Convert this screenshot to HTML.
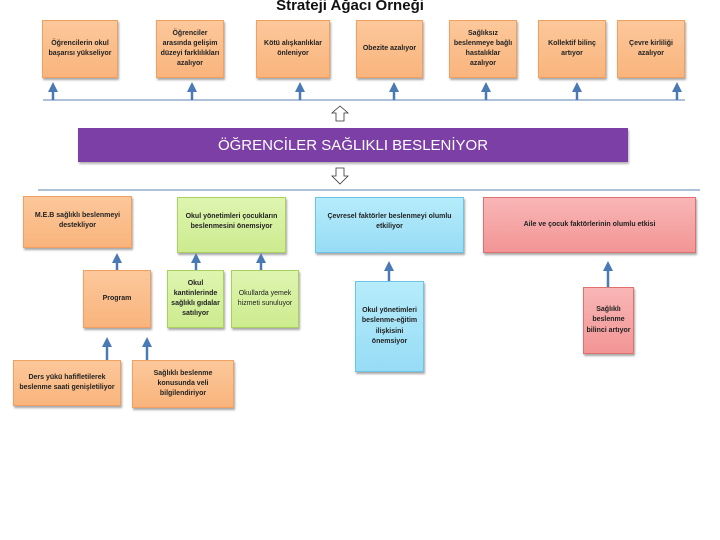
<!DOCTYPE html>
<html><head><meta charset="utf-8"><style>
body{margin:0;width:720px;height:540px;background:#fff;position:relative;overflow:hidden;font-family:"Liberation Sans",sans-serif}
.b{position:absolute;display:flex;align-items:center;justify-content:center;text-align:center;font-size:7px;font-weight:bold;color:#222;line-height:1.45;box-sizing:border-box;padding:2px;box-shadow:1px 2px 2px rgba(0,0,0,.35)}
.o{background:linear-gradient(#fcc89b,#f9b47c);border:1px solid #f0a060}
.g{background:linear-gradient(#def5b0,#cdeb8f);border:1px solid #aad060}
.c{background:linear-gradient(#b6ecfb,#97dcf5);border:1px solid #6cc4e6}
.p{background:linear-gradient(#f9b6b6,#f29595);border:1px solid #e07070}
.t{align-items:flex-start;padding-top:14px}
</style></head><body>
<div style="position:absolute;left:0;width:700px;top:-3px;text-align:center;font-size:15px;font-weight:bold;color:#111">Strateji Ağacı Örneği</div>

<div class="b o" style="left:42px;top:20px;width:76px;height:58px">Öğrencilerin okul başarısı yükseliyor</div>
<div class="b o" style="left:156px;top:20px;width:68px;height:58px">Öğrenciler arasında gelişim düzeyi farklılıkları azalıyor</div>
<div class="b o" style="left:256px;top:20px;width:74px;height:58px">Kötü alışkanlıklar önleniyor</div>
<div class="b o" style="left:356px;top:20px;width:67px;height:58px">Obezite azalıyor</div>
<div class="b o" style="left:449px;top:20px;width:68px;height:58px">Sağlıksız beslenmeye bağlı hastalıklar azalıyor</div>
<div class="b o" style="left:538px;top:20px;width:68px;height:58px">Kollektif bilinç artıyor</div>
<div class="b o" style="left:617px;top:20px;width:68px;height:58px">Çevre kirliliği azalıyor</div>

<div style="position:absolute;left:78px;top:128px;width:550px;height:34px;background:#7b3fa6;color:#fff;font-size:15px;display:flex;align-items:center;justify-content:center;box-shadow:1px 2px 2px rgba(0,0,0,.3)">ÖĞRENCİLER SAĞLIKLI BESLENİYOR</div>

<div class="b o t" style="left:23px;top:196px;width:109px;height:52px">M.E.B sağlıklı beslenmeyi destekliyor</div>
<div class="b g t" style="left:177px;top:197px;width:109px;height:56px">Okul yönetimleri çocukların beslenmesini önemsiyor</div>
<div class="b c t" style="left:315px;top:197px;width:149px;height:56px">Çevresel faktörler beslenmeyi olumlu etkiliyor</div>
<div class="b p t" style="left:483px;top:197px;width:213px;height:56px;padding-top:22px">Aile ve çocuk faktörlerinin olumlu etkisi</div>

<div class="b o" style="left:83px;top:270px;width:68px;height:58px">Program</div>
<div class="b g" style="left:167px;top:270px;width:57px;height:58px">Okul kantinlerinde sağlıklı gıdalar satılıyor</div>
<div class="b g" style="left:231px;top:270px;width:68px;height:58px;font-weight:normal">Okullarda yemek hizmeti sunuluyor</div>
<div class="b c" style="left:355px;top:281px;width:69px;height:91px">Okul yönetimleri beslenme-eğitim ilişkisini önemsiyor</div>
<div class="b p" style="left:583px;top:287px;width:51px;height:67px">Sağlıklı beslenme bilinci artıyor</div>

<div class="b o" style="left:13px;top:360px;width:108px;height:46px">Ders yükü hafifletilerek beslenme saati genişletiliyor</div>
<div class="b o" style="left:132px;top:360px;width:102px;height:48px">Sağlıklı beslenme konusunda veli bilgilendiriyor</div>

<svg width="720" height="540" style="position:absolute;left:0;top:0" xmlns="http://www.w3.org/2000/svg">
<defs><marker id="a" markerWidth="4" markerHeight="4" refX="2" refY="2" orient="auto"><path d="M0,0 L4,2 L0,4 Z" fill="#4a7ab5"/></marker></defs>
<g stroke="#7f9cc0" stroke-width="1.2"><line x1="43" y1="100" x2="685" y2="100"/><line x1="38" y1="190" x2="700" y2="190"/></g>
<g stroke="#4a7ab5" stroke-width="2.5" marker-end="url(#a)">
<line x1="53" y1="100" x2="53" y2="87"/><line x1="192" y1="100" x2="192" y2="87"/><line x1="300" y1="100" x2="300" y2="87"/><line x1="394" y1="100" x2="394" y2="87"/><line x1="486" y1="100" x2="486" y2="87"/><line x1="577" y1="100" x2="577" y2="87"/><line x1="677" y1="100" x2="677" y2="87"/>
<line x1="117" y1="270" x2="117" y2="258"/><line x1="196" y1="270" x2="196" y2="258"/><line x1="261" y1="270" x2="261" y2="258"/>
<line x1="389" y1="281" x2="389" y2="266"/><line x1="608" y1="287" x2="608" y2="266"/>
<line x1="107" y1="360" x2="107" y2="342"/><line x1="147" y1="360" x2="147" y2="342"/>
</g>
<path d="M340,106 L348,113 L344,113 L344,121 L336,121 L336,113 L332,113 Z" fill="#fff" stroke="#333" stroke-width="0.8"/>
<path d="M340,184 L348,176 L344,176 L344,168 L336,168 L336,176 L332,176 Z" fill="#fff" stroke="#333" stroke-width="0.8"/>
</svg>
</body></html>
